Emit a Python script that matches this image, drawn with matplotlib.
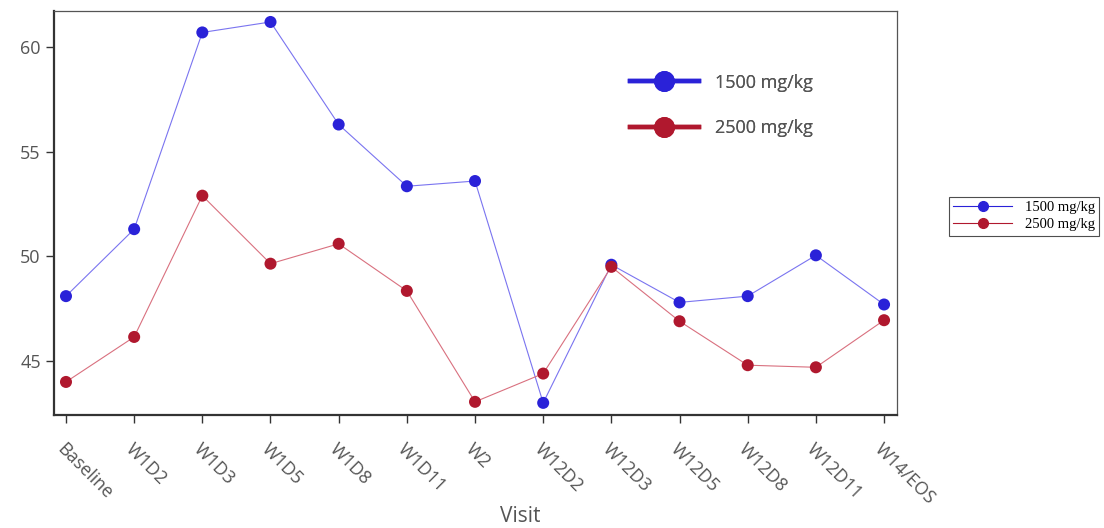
import matplotlib
matplotlib.use("Agg")
import matplotlib.pyplot as plt
from matplotlib.lines import Line2D

visits = ["Baseline", "W1D2", "W1D3", "W1D5", "W1D8", "W1D11", "W2",
          "W12D2", "W12D3", "W12D5", "W12D8", "W12D11", "W14/EOS"]
dose_1500 = [48.1, 51.3, 60.7, 61.2, 56.3, 53.35, 53.6,
             43.0, 49.6, 47.8, 48.1, 50.05, 47.7]
dose_2500 = [44.0, 46.15, 52.9, 49.65, 50.6, 48.35, 43.05,
             44.4, 49.5, 46.9, 44.8, 44.7, 46.95]
series_labels = ["1500 mg/kg", "2500 mg/kg"]

BLUE = "#2a22d8"
RED = "#b0182e"
TXT = "#555555"
plt.rcParams["font.family"] = ["Open Sans", "DejaVu Sans"]

fig = plt.figure(figsize=(11.04, 5.28), dpi=100)
ax = fig.add_axes([0.0489, 0.214, 0.7636, 0.765])

x = range(len(visits))
ax.plot(x, dose_1500, color="#7a74f0", lw=0.8, zorder=2)
ax.plot(x, dose_2500, color="#d9707f", lw=0.8, zorder=2)
ax.scatter(x, dose_1500, s=75, color=BLUE, zorder=3, edgecolors="none")
ax.scatter(x, dose_2500, s=75, color=RED, zorder=4, edgecolors="none")

ax.set_xlim(-0.176, 12.19)
ax.set_ylim(42.42, 61.72)
ax.set_yticks([45, 50, 55, 60])
ax.set_xticks(list(x))
ax.set_xticklabels(visits, rotation=-45, ha="left", va="top",
                   rotation_mode="anchor", fontsize=13, color=TXT)
ax.tick_params(axis="y", labelsize=13, labelcolor=TXT, length=6, width=1, color="#333333")
ax.tick_params(axis="x", length=6, width=1, color="#333333", pad=12)
ax.set_xlabel("Visit", fontsize=15, color=TXT, labelpad=0)
ax.xaxis.set_label_coords(0.553, -0.225)

for side in ["left", "bottom"]:
    ax.spines[side].set_color("#333333")
    ax.spines[side].set_linewidth(1.6)
for side in ["top", "right"]:
    ax.spines[side].set_color("#555555")
    ax.spines[side].set_linewidth(0.9)

# big in-plot legend
big = [Line2D([0], [0], color=BLUE, lw=3.2, marker="o", markersize=14),
       Line2D([0], [0], color=RED, lw=3.2, marker="o", markersize=14)]
leg1 = ax.legend(big, series_labels, loc="upper left", bbox_to_anchor=(0.664, 0.885),
                 frameon=False, fontsize=13, handlelength=3.8, labelspacing=1.5,
                 handletextpad=0.9)
for t in leg1.get_texts():
    t.set_color(TXT)
ax.add_artist(leg1)

# small serif legend outside
small = [Line2D([0], [0], color=BLUE, lw=0.8, marker="o", markersize=7),
         Line2D([0], [0], color=RED, lw=0.8, marker="o", markersize=7)]
leg2 = fig.legend(small, series_labels, loc="upper left", bbox_to_anchor=(0.853, 0.641),
                  prop={"family": "Liberation Serif", "size": 10.5}, frameon=True,
                  fancybox=False, edgecolor="#222222", handlelength=4.0,
                  borderpad=0.3, labelspacing=0.25, handletextpad=0.9)
leg2.get_frame().set_linewidth(0.8)

fig.savefig("out.png", dpi=100)
